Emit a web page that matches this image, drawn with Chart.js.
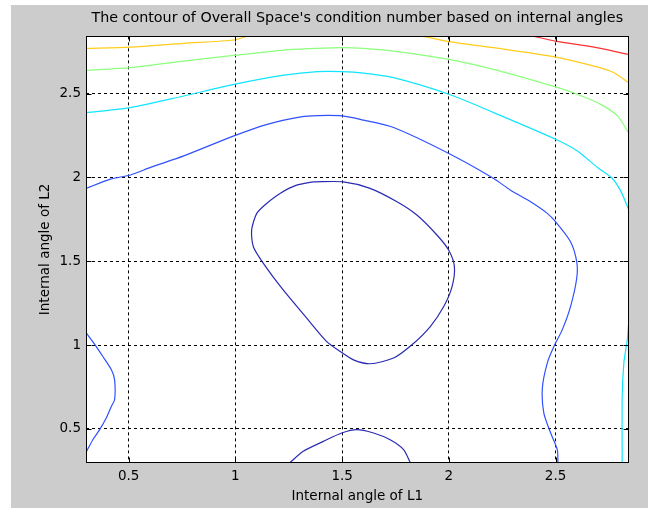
<!DOCTYPE html>
<html>
<head>
<meta charset="utf-8">
<script src="https://cdn.jsdelivr.net/npm/chart.js@4.4.0/dist/chart.umd.min.js"></script>
<style>
  html, body { margin: 0; padding: 0; background: #fff; }
  #marco { position: absolute; left: 11px; top: 5px; width: 637px; height: 503px; background: #cccccc; }
  canvas { display: block; }
</style>
</head>
<body>
<div id="marco"><canvas id="grafica" width="637" height="503"></canvas></div>
<script>
const xMin = 0.3;
const xMax = 2.8416;
const yMin = 0.3;
const yMax = 2.8416;

const xTicks = [0.5, 1, 1.5, 2, 2.5];
const yTicks = [0.5, 1, 1.5, 2, 2.5];
const xTickLabels = ['0.5', '1', '1.5', '2', '2.5'];
const yTickLabels = ['0.5', '1', '1.5', '2', '2.5'];

// lazo cerrado (azul oscuro)
const loopX = [1.365, 1.506, 1.631, 1.757, 1.85, 1.944, 1.999, 2.026, 2.015, 1.976, 1.913, 1.827, 1.741, 1.631, 1.553, 1.491, 1.428, 1.334, 1.224, 1.131, 1.084, 1.076, 1.10, 1.146, 1.209, 1.287, 1.365];
const loopY = [1.974, 1.974, 1.935, 1.855, 1.776, 1.657, 1.567, 1.468, 1.349, 1.23, 1.111, 1.002, 0.923, 0.889, 0.912, 0.962, 1.021, 1.161, 1.329, 1.488, 1.587, 1.686, 1.786, 1.845, 1.905, 1.954, 1.974];

// arco de abajo (azul oscuro)
const arcX = [1.256, 1.318, 1.412, 1.498, 1.569, 1.647, 1.725, 1.788, 1.819];
const arcY = [0.3, 0.367, 0.426, 0.476, 0.496, 0.476, 0.436, 0.377, 0.3];

// azul grande
const blueX = [0.3, 0.414, 0.508, 0.602, 0.758, 0.993, 1.149, 1.306, 1.384, 1.50, 1.60, 1.741, 2.0, 2.21, 2.289, 2.383, 2.461, 2.50, 2.57, 2.599, 2.599, 2.57, 2.531, 2.492, 2.461, 2.438, 2.445, 2.477, 2.508, 2.511];
const blueY = [1.935, 1.99, 2.015, 2.06, 2.129, 2.248, 2.317, 2.361, 2.369, 2.367, 2.342, 2.298, 2.143, 1.994, 1.924, 1.855, 1.786, 1.736, 1.617, 1.498, 1.399, 1.23, 1.091, 0.992, 0.893, 0.744, 0.595, 0.476, 0.377, 0.3];

// azul izquierda
const blueLX = [0.3, 0.34, 0.379, 0.419, 0.434, 0.434, 0.419, 0.395, 0.364, 0.332, 0.3];
const blueLY = [1.075, 1.006, 0.932, 0.853, 0.793, 0.674, 0.635, 0.565, 0.496, 0.436, 0.36];

// cian
const cyanX = [0.3, 0.508, 0.758, 0.993, 1.228, 1.384, 1.50, 1.60, 1.741, 2.0, 2.21, 2.5, 2.602, 2.696, 2.766, 2.805, 2.8416];
const cyanY = [2.387, 2.417, 2.486, 2.555, 2.61, 2.631, 2.631, 2.622, 2.595, 2.496, 2.387, 2.228, 2.158, 2.06, 1.994, 1.92, 1.811];
const cyanRX = [2.8416, 2.836, 2.82, 2.812, 2.812];
const cyanRY = [1.121, 1.032, 0.895, 0.692, 0.3];

// verde
const greenX = [0.3, 0.508, 0.758, 0.993, 1.228, 1.384, 1.50, 1.60, 1.741, 2.0, 2.21, 2.5, 2.602, 2.711, 2.79, 2.8416];
const greenY = [2.639, 2.655, 2.694, 2.728, 2.76, 2.77, 2.774, 2.77, 2.754, 2.704, 2.645, 2.54, 2.496, 2.436, 2.367, 2.268];

// amarillo
const yellowX = [0.3, 0.508, 0.758, 0.993, 1.05];
const yellowY = [2.77, 2.777, 2.80, 2.82, 2.8416];
const yellowRX = [1.88, 2.0, 2.21, 2.5, 2.68, 2.774, 2.8416];
const yellowRY = [2.8416, 2.81, 2.774, 2.718, 2.664, 2.625, 2.565];

// rojo
const redX = [2.40, 2.5, 2.68, 2.8416];
const redY = [2.8416, 2.813, 2.777, 2.734];

const fuente = 'DejaVu Sans';

function puntos(xs, ys) {
    return xs.map((x, i) => ({ x: x, y: ys[i] }));
}

function curva(xs, ys, color) {
    return {
        data: puntos(xs, ys),
        borderColor: color,
        borderWidth: 1.2,
        showLine: true,
        pointRadius: 0,
        fill: false,
        tension: 0.25
    };
}

const datasets = [
    curva(loopX, loopY, '#2a2ab4'),
    curva(arcX, arcY, '#2a2ab4'),
    curva(blueX, blueY, '#3050ff'),
    curva(blueLX, blueLY, '#3050ff'),
    curva(cyanX, cyanY, '#10e4ff'),
    curva(cyanRX, cyanRY, '#10e4ff'),
    curva(greenX, greenY, '#8cff7c'),
    curva(yellowX, yellowY, '#ffcc1a'),
    curva(yellowRX, yellowRY, '#ffcc1a'),
    curva(redX, redY, '#ff3030')
];

// fondo blanco del area + titulo centrado sobre el area
const fondo = {
    id: 'fondo',
    afterLayout(chart) {
        const a = chart.chartArea;
        if (chart.titleBlock) {
            chart.titleBlock.left = a.left;
            chart.titleBlock.right = a.right;
            chart.titleBlock.width = a.right - a.left;
        }
    },
    beforeDraw(chart) {
        const a = chart.chartArea;
        const ctx = chart.ctx;
        ctx.save();
        ctx.fillStyle = '#ffffff';
        ctx.fillRect(a.left, a.top, a.right - a.left, a.bottom - a.top);
        ctx.restore();
    }
};

// caja y ticks hacia dentro
const caja = {
    id: 'caja',
    afterDatasetsDraw(chart) {
        const a = chart.chartArea;
        const ctx = chart.ctx;
        const xs = chart.scales.x;
        const ys = chart.scales.y;
        const l = Math.round(a.left) + 0.5, r = Math.round(a.right) - 0.5;
        const t = Math.round(a.top) + 0.5, b = Math.round(a.bottom) - 0.5;
        ctx.save();
        ctx.strokeStyle = '#000';
        ctx.lineWidth = 1;
        ctx.beginPath();
        xTicks.forEach(v => {
            const px = Math.round(xs.getPixelForValue(v)) + 0.5;
            ctx.moveTo(px, b); ctx.lineTo(px, b - 5);
            ctx.moveTo(px, t); ctx.lineTo(px, t + 5);
        });
        yTicks.forEach(v => {
            const py = Math.round(ys.getPixelForValue(v)) + 0.5;
            ctx.moveTo(l, py); ctx.lineTo(l + 5, py);
            ctx.moveTo(r, py); ctx.lineTo(r - 5, py);
        });
        ctx.stroke();
        ctx.strokeRect(l, t, r - l, b - t);
        ctx.restore();
    }
};

const graph = document.getElementById('grafica');
const myChart = new Chart(graph, {
    type: 'scatter',
    data: { datasets: datasets },
    plugins: [fondo, caja],
    options: {
        responsive: false,
        animation: false,
        devicePixelRatio: 1,
        layout: { padding: { left: 0, right: 19.5, top: 0, bottom: 0 } },
        plugins: {
            legend: { display: false },
            tooltip: { enabled: false },
            title: {
                display: true,
                text: "The contour of Overall Space's condition number based on internal angles",
                color: '#000',
                font: { family: fuente, size: 14.3, weight: 'normal' },
                padding: { top: 5, bottom: 9.2 }
            }
        },
        scales: {
            x: {
                type: 'linear',
                min: xMin,
                max: xMax,
                afterBuildTicks: s => { s.ticks = xTicks.map(v => ({ value: v })); },
                afterFit: s => { s.height = 45.5; },
                grid: { color: '#000', lineWidth: 1, drawTicks: false },
                border: { display: false, dash: [3, 3] },
                ticks: {
                    color: '#000',
                    font: { family: fuente, size: 13.5 },
                    padding: 6,
                    autoSkip: false,
                    maxRotation: 0,
                    callback: (v, i) => xTickLabels[i]
                },
                title: {
                    display: true,
                    text: 'Internal angle of L1',
                    color: '#000',
                    font: { family: fuente, size: 13.5 },
                    padding: { top: 0, bottom: 3 }
                }
            },
            y: {
                type: 'linear',
                min: yMin,
                max: yMax,
                afterBuildTicks: s => { s.ticks = yTicks.map(v => ({ value: v })); },
                afterFit: s => { s.width = 75; },
                grid: { color: '#000', lineWidth: 1, drawTicks: false },
                border: { display: false, dash: [3, 3] },
                ticks: {
                    color: '#000',
                    font: { family: fuente, size: 13.5 },
                    padding: 5,
                    autoSkip: false,
                    callback: (v, i) => yTickLabels[i]
                },
                title: {
                    display: true,
                    text: 'Internal angle of L2',
                    color: '#000',
                    font: { family: fuente, size: 13.5 },
                    padding: { top: 26, bottom: 0 }
                }
            }
        }
    }
});
</script>
</body>
</html>
